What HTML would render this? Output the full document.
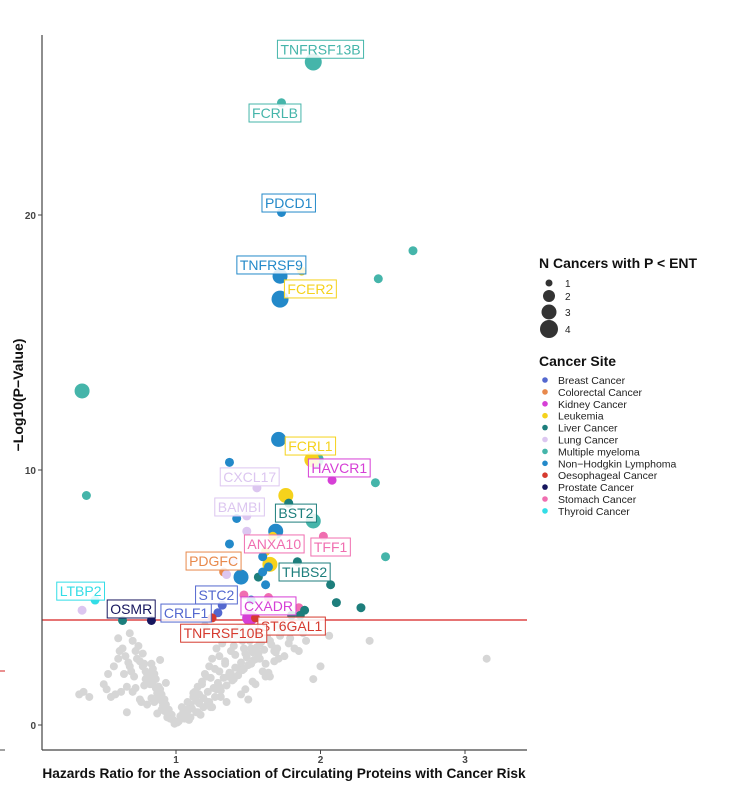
<!DOCTYPE html>
<html><head><meta charset="utf-8"><style>
html,body{margin:0;padding:0;background:#fff;}
svg{display:block;font-family:"Liberation Sans",Arial,sans-serif;}
</style></head><body>
<svg id="chart" width="740" height="789" viewBox="0 0 740 789" xmlns="http://www.w3.org/2000/svg">
<rect width="740" height="789" fill="#fff"/>
<g id="grey"></g>
<line x1="42" x2="527" y1="620" y2="620" stroke="#d62020" stroke-width="1.2"/>
<line x1="0" x2="5" y1="671" y2="671" stroke="#d62020" stroke-width="1"/>
<line x1="0" x2="5" y1="750" y2="750" stroke="#444" stroke-width="1"/>
<g id="pts"></g>
<g id="labels"></g>
<line x1="42" x2="42" y1="35" y2="750" stroke="#444" stroke-width="1.2"/>
<line x1="42" x2="527" y1="750" y2="750" stroke="#444" stroke-width="1.2"/>
<g id="axes"></g>
<text x="284" y="778" text-anchor="middle" font-size="13.7" font-weight="bold" fill="#111">Hazards Ratio for the Association of Circulating Proteins with Cancer Risk</text>
<text transform="translate(23,395) rotate(-90)" text-anchor="middle" font-size="14" font-weight="bold" fill="#111">−Log10(P−Value)</text>
<g id="legend"></g>
</svg>
<script>
const xTicks=[1,2,3];
const yTicks=[0,10,20];
const siteNames=["Breast Cancer","Colorectal Cancer","Kidney Cancer","Leukemia","Liver Cancer","Lung Cancer","Multiple myeloma","Non−Hodgkin Lymphoma","Oesophageal Cancer","Prostate Cancer","Stomach Cancer","Thyroid Cancer"];
const siteColors=["#5468cf","#e8894c","#d63fd6","#f5d21c","#1d7e7c","#dcc6f0","#45b5aa","#2389c9","#d63a2f","#17165e","#f06eb0","#33dde6"];
const sizeLevels=[1,2,3,4];
// significant points: hr, logp, site index, n cancers
const sigHR=[1.95,1.73,1.73,2.64,1.72,1.87,2.40,1.72,0.35,0.38,1.37,1.71,1.97,1.94,2.08,2.38,1.56,1.76,1.78,1.49,1.42,1.95,1.69,1.67,1.49,2.02,1.37,1.62,1.60,2.45,1.84,1.33,1.64,1.65,1.45,1.57,1.62,2.07,0.44,0.35,2.11,2.28,1.32,1.29,1.47,1.64,1.51,1.85,1.89,0.83,0.63,1.25,1.55,1.80,1.86,1.35,1.40,1.60,1.52];
const sigP=[26.0,24.4,20.1,18.6,17.6,17.8,17.5,16.7,13.1,9.0,10.3,11.2,10.4,10.4,9.6,9.5,9.3,9.0,8.7,8.2,8.1,8.0,7.6,7.4,7.6,7.4,7.1,6.8,6.6,6.6,6.4,6.0,6.2,6.3,5.8,5.8,5.5,5.5,4.9,4.5,4.8,4.6,4.7,4.4,5.1,5.0,4.2,4.6,4.5,4.1,4.1,4.2,4.2,4.3,4.3,5.9,6.4,6.0,4.9];
const sigSite=[6,6,7,6,7,3,6,7,6,6,7,7,6,3,2,6,5,3,4,5,7,6,7,3,5,10,7,3,7,6,4,1,7,3,7,4,7,4,11,5,4,4,0,0,10,10,2,10,4,9,4,8,8,4,4,5,5,7,7];
const sigN=[3,1,1,1,2,1,1,3,2,1,1,2,2,2,1,1,1,2,1,1,1,2,2,1,1,1,1,1,1,1,1,1,1,2,2,1,1,1,1,1,1,1,1,1,1,1,2,1,1,1,1,1,1,1,1,1,1,1,1];
// labels: text, centre hr, centre logp, site index
const labText=["TNFRSF13B","FCRLB","PDCD1","TNFRSF9","FCER2","FCRL1","HAVCR1","CXCL17","BAMBI","BST2","ANXA10","TFF1","PDGFC","THBS2","LTBP2","STC2","CXADR","OSMR","CRLF1","ST6GAL1","TNFRSF10B"];
const labHR=[2.00,1.685,1.78,1.66,1.93,1.93,2.13,1.51,1.44,1.83,1.68,2.07,1.26,1.89,0.34,1.28,1.64,0.69,1.07,1.80,1.33];
const labP=[26.5,24.0,20.47,18.04,17.1,10.94,10.08,9.73,8.55,8.31,7.1,6.98,6.43,6.0,5.25,5.1,4.67,4.55,4.39,3.88,3.6];
const labSite=[6,6,7,7,3,3,2,5,5,4,10,10,1,4,11,0,2,9,0,8,8];
// non-significant (grey) points
const greyHR=[1.0,0.98,1.02,0.97,1.03,0.95,1.05,0.96,1.04,0.93,1.07,0.92,1.08,0.9,1.1,0.89,1.12,0.88,1.13,0.86,1.15,0.85,1.16,0.84,1.18,0.83,1.2,0.82,1.21,0.8,1.23,0.79,1.25,0.78,1.27,0.77,1.28,0.75,1.3,0.74,1.32,0.72,1.34,0.7,1.36,0.69,1.38,0.68,1.4,0.66,1.42,0.65,1.44,0.63,1.46,0.62,1.48,0.6,1.5,0.58,1.52,0.57,1.54,0.55,1.56,0.53,1.58,0.52,1.6,0.5,1.62,0.4,1.65,0.36,1.68,0.33,1.7,1.72,1.75,1.78,1.8,1.85,1.9,1.95,2.0,2.06,2.34,3.15,1.3,1.4,1.5,1.55,1.45,1.35,1.25,1.15,0.9,0.85,0.8,0.75,0.7,1.6,1.65,1.7,1.42,1.38,1.48,1.52,1.58,1.62,1.33,1.28,1.22,0.94,0.87,0.76,0.66,0.6,1.2,1.1,1.06,0.99,1.01,1.09,1.17,1.24,1.31,1.47,1.53,1.36,1.44,1.57,1.63,1.68,1.74,1.82,1.88,
0.96,0.94,0.92,0.91,0.9,0.88,0.87,0.86,0.84,0.82,0.81,0.79,0.77,0.73,0.71,0.68,0.64,0.61,1.04,1.06,1.08,1.11,1.14,1.16,1.19,1.22,1.26,1.29,1.33,1.37,1.41,1.45,1.49,1.53,1.56,1.59,1.63,1.66,1.69,1.73,1.14,1.19,1.23,1.27,1.31,1.35,1.39,1.43,1.46,1.5,1.54,1.61,0.93,0.89,0.83,0.78,0.72,0.67,1.12,1.18,1.24,1.3,1.34,1.41,1.47,1.51,1.58,1.64,1.71,1.79];
const greyP=[0.1,0.2,0.15,0.4,0.35,0.6,0.5,0.3,0.7,0.8,0.6,1.0,0.9,1.2,0.8,1.4,1.1,1.5,1.3,1.8,1.5,2.0,1.2,2.2,1.7,2.4,2.0,1.6,1.9,2.0,2.3,1.8,2.6,2.4,2.2,2.8,3.0,2.5,2.7,3.1,3.2,2.9,2.5,3.3,3.4,2.1,2.9,3.6,3.1,1.5,3.5,2.7,2.2,3.0,3.3,1.3,2.8,3.4,3.6,1.2,3.0,2.3,3.7,1.1,2.6,2.0,3.2,1.4,3.8,1.6,2.4,1.1,3.3,1.3,2.9,1.2,3.9,3.5,2.7,3.2,3.8,2.9,3.3,1.8,2.3,3.5,3.3,2.6,1.5,1.8,1.0,1.6,1.2,0.9,0.7,0.5,0.6,0.9,0.8,1.0,1.3,2.1,1.9,3.0,3.7,2.0,1.4,2.4,2.6,1.9,3.5,1.4,0.9,0.3,0.45,0.9,0.5,2.6,3.9,0.3,0.25,0.05,0.1,0.2,0.4,0.7,1.1,2.2,1.7,1.9,3.8,2.8,3.6,2.5,3.9,3.0,3.6,
0.25,0.45,0.55,0.75,0.95,1.05,1.25,1.45,1.6,1.75,1.95,2.1,2.3,2.6,1.9,2.3,2.0,2.9,0.3,0.45,0.55,0.65,0.95,0.85,1.05,1.3,1.45,1.65,1.85,2.05,2.25,2.45,2.65,2.85,3.05,3.25,3.45,3.15,2.85,3.65,0.5,0.7,0.9,1.1,1.35,1.55,1.75,1.95,2.15,2.35,2.55,2.95,1.65,2.55,1.05,1.55,1.45,2.45,1.25,1.6,1.85,2.1,2.4,2.75,3.0,3.3,3.55,2.05,2.6,3.4];

const NS="http://www.w3.org/2000/svg";
const X0=42,X1=527,Y0=35,Y1=750;
function xs(v){return 176+(v-1)*144.5;}
function ys(v){return 725-v*25.5;}
function rad(n){return [0,4.5,7.5,8.5,10][n];}
function mk(tag,attrs,parent){const e=document.createElementNS(NS,tag);for(const k in attrs)e.setAttribute(k,attrs[k]);parent.appendChild(e);return e;}

const gGrey=document.getElementById('grey');
for(let i=0;i<greyHR.length;i++){
  const c=mk('circle',{cx:xs(greyHR[i]),cy:ys(greyP[i]),r:4,fill:'#d6d6d6'},gGrey);
  
  
}
const gPts=document.getElementById('pts');
const order=sigN.map((n,i)=>i).sort((a,b)=>sigN[b]-sigN[a]);
for(const i of order){
  const c=mk('circle',{cx:xs(sigHR[i]),cy:ys(sigP[i]),r:rad(sigN[i]),fill:siteColors[sigSite[i]]},gPts);
  
  
}
const gLab=document.getElementById('labels');
for(let i=0;i<labText.length;i++){
  const g=mk('g',{},gLab);
  
  
  const col=siteColors[labSite[i]];
  const t=mk('text',{x:xs(labHR[i]),y:ys(labP[i])+5,'text-anchor':'middle','font-size':14,fill:col},g);
  t.textContent=labText[i];
  const w=t.getComputedTextLength();
  const r=mk('rect',{x:xs(labHR[i])-w/2-3,y:ys(labP[i])-9,width:w+6,height:18,fill:'rgba(255,255,255,0.85)',stroke:col,'stroke-width':1},g);
  g.insertBefore(r,t);
}
const gAx=document.getElementById('axes');
for(const v of xTicks){
  const l=mk('line',{x1:xs(v),x2:xs(v),y1:Y1,y2:Y1+4,stroke:'#444'},gAx);
  
  
  const t=mk('text',{x:xs(v),y:Y1+13,'text-anchor':'middle','font-size':10,'font-weight':'bold',fill:'#444'},gAx);
  
  
  t.textContent=v;
}
for(const v of yTicks){
  const l=mk('line',{x1:X0-4,x2:X0,y1:ys(v),y2:ys(v),stroke:'#444'},gAx);
  
  
  const t=mk('text',{x:X0-6,y:ys(v)+4,'text-anchor':'end','font-size':10,'font-weight':'bold',fill:'#444'},gAx);
  
  
  t.textContent=v;
}
const gLeg=document.getElementById('legend');
let tt=mk('text',{x:539,y:268,'font-size':14,'font-weight':'bold',fill:'#111'},gLeg);


tt.textContent='N Cancers with P < ENT';
const sy=[283,296,312,329],sr=[3.5,6,7.5,9];
for(let i=0;i<sizeLevels.length;i++){
  const c=mk('circle',{cx:549,cy:sy[i],r:sr[i],fill:'#333'},gLeg);
  
  
  const t=mk('text',{x:565,y:sy[i]+4,'font-size':10,fill:'#222'},gLeg);
  
  
  t.textContent=sizeLevels[i];
}
tt=mk('text',{x:539,y:366,'font-size':14,'font-weight':'bold',fill:'#111'},gLeg);


tt.textContent='Cancer Site';
for(let i=0;i<siteNames.length;i++){
  const y=380+i*11.9;
  const c=mk('circle',{cx:545,cy:y,r:2.8,fill:siteColors[i]},gLeg);
  
  
  const t=mk('text',{x:558,y:y+4,'font-size':10.5,fill:'#222'},gLeg);
  
  
  t.textContent=siteNames[i];
}
</script>
</body></html>
